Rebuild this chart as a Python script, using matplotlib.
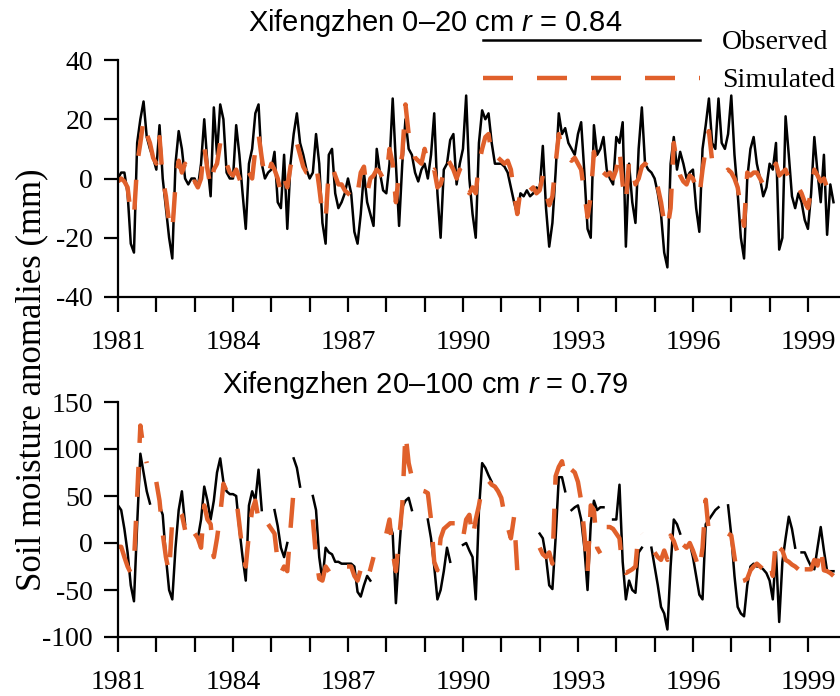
import numpy as np
import matplotlib
matplotlib.use("Agg")
import matplotlib.pyplot as plt

plt.rcParams['font.family'] = ['Liberation Serif', 'DejaVu Serif']
plt.rcParams['mathtext.fontset'] = 'custom'
plt.rcParams['mathtext.it'] = 'Liberation Sans:italic'
plt.rcParams['mathtext.rm'] = 'Liberation Sans'
plt.rcParams['axes.unicode_minus'] = False

# monthly anomalies (mm), Jan 1981 .. Sep 1999, nan = no data
nan = np.nan

obs_top = [
    0, 2, 2, -5, -22, -25, 12, 20, 26, 14, 10, 7,            # 1981
    3, 18, 0, -10, -20, -27, 5, 16, 10, 0, -2, 0,            # 1982
    0, -3, 5, 20, 5, -6, 24, 8, 25, 20, 2, 0,                # 1983
    0, 18, 8, -5, -17, 5, 10, 22, 25, 5, 0, 2,               # 1984
    3, 9, -8, -10, 8, -17, 5, 15, 22, 12, 8, 3,              # 1985
    0, 2, 15, 5, -15, -22, 8, 10, -5, -10, -8, -5,           # 1986
    0, -5, -18, -22, -12, 2, -8, -12, -16, 10, 2, -4,        # 1987
    -5, 5, 27, 5, -16, 5, 20, 10, 8, 2, -1, 3,               # 1988
    5, 0, 8, 22, -5, -20, 3, 5, 13, 15, -2, 5,               # 1989
    10, 28, 0, -12, -20, 12, 23, 20, 22, 12, 5, 5,           # 1990
    5, 4, 2, -3, -8, -12, -5, -6, -4, -6, -5, -3,            # 1991
    -4, 11, -10, -23, -15, 2, 22, 15, 17, 12, 10, 8,         # 1992
    15, 19, 2, -17, -20, 18, 8, 10, 14, 3, 0, -2,            # 1993
    14, 12, 19, -23, 5, -8, -15, 10, 24, 5, 3, 2,            # 1994
    0, -5, -12, -25, -30, 5, 14, 3, 9, 5, 0, 2,              # 1995
    3, -10, -18, 10, 18, 27, 12, 10, 27, 12, 10, 15,         # 1996
    28, 8, -5, -20, -27, 0, 10, 14, 5, 0, -6, -3,            # 1997
    5, 3, 12, -24, -20, 21, 8, -6, -10, -5, -8, -14,         # 1998
    -17, -5, 14, 2, -8, 8, -19, -2, -8,                      # 1999
]

sim_top = [
    -1, 0, -1, -3, -12, -13, 5, 12, 20, 15, 12, 7,
    5, 14, 0, -6, -15, -18, -2, 6, 2, 5, 0, -2,
    -1, -3, 0, 11, 3, -3, 3, 5, 12, 7, 5, 2,
    1, 3, 0, -3, -1, 2, 0, 10, 15, 7, 0, 1,
    5, 3, 0, -5, 0, -3, 4, 9, 12, 8, 4, 2,
    2, 3, 5, -3, -12, -14, 3, 4, 1, -2, -2, -4,
    -5, -6, -8, -5, 2, 4, -5, 0, 1, 3, 2, 0,
    0, 10, 5, -8, 2, 8, 25, 15, 12, 7, 6, 5,
    10, 5, 2, 3, -3, -2, 2, 7, 5, 3, 0, 3,
    1, 0, -5, -3, -5, 5, 10, 14, 15, 8, 6, 7,
    6, 5, 6, 3, -5, -12, -4, -4, -2, -4, -3, -5,
    -4, 1, -5, -9, -6, 5, 15, 10, 8, 7, 6, 7,
    5, 3, -5, -13, -6, 9, 2, 3, 2, 1, 2, 0,
    3, 10, -2, -8, 6, 3, -2, 0, 4, 5, 4, 2,
    0, -3, -8, -15, -17, -10, 12, 5, 1, -1, -2, 1,
    0, -3, -6, 3, 10, 16, 6, 5, 4, 4, 2, 3,
    2, 0, -3, -10, -16, 2, 1, 2, 2, 0, -2, -1,
    2, 3, 5, 1, 2, 3, 0, -2, -4, -3, -5, -8,
    -10, -4, 3, 1, -1, 0, -3, -2, 1,
]

obs_bot = [
    40, 35, 15, -10, -45, -62, 20, 95, 75, 55, 42, nan,
    nan, 40, 30, -15, -50, -60, -5, 35, 55, 20, nan, nan,
    nan, 5, 25, 60, 45, 25, 45, 75, 90, 65, 55, 52,
    52, 50, 15, -15, -40, 40, 55, 45, 78, 35, nan, nan,
    nan, 35, 18, -5, -15, 0, nan, 90, 80, 60, nan, nan,
    nan, 50, 35, -15, -40, -5, -10, -12, -20, -20, -22, -22,
    -22, -22, -25, -52, -57, -45, -35, -40, nan, nan, nan, nan,
    nan, 20, 10, -64, -10, 38, 45, 48, 35, nan, nan, nan,
    nan, 25, 5, -25, -60, -50, -30, -5, -20, nan, nan, nan,
    -2, 0, -8, -15, -60, 35, 85, 80, 72, 65, nan, nan,
    nan, nan, nan, nan, nan, nan, nan, nan, nan, nan, nan, nan,
    10, 5, -15, -45, -49, 5, 70, 70, 55, nan, 35, 38,
    40, 25, -5, -50, 20, 45, 35, 38, 38, nan, nan, 25,
    25, 62, -20, -60, -40, -50, -53, -10, -5, nan, nan, -5,
    -25, -45, -68, -75, -92, -25, 25, 20, 10, nan, nan, 0,
    -15, -35, -55, -60, 20, 25, 30, 35, 38, nan, nan, 40,
    8, -35, -68, -75, -78, -45, -25, -22, -25, -25, -28, -32,
    -40, -60, -10, -84, -20, 5, 28, 15, -5, nan, -10, -10,
    -18, -25, -28, -5, 17, -8, -30, -30, -30,
]

sim_bot = [
    -4, -4, -15, -25, -32, -20, 50, 125, 100, 85, nan, nan,
    65, 45, 10, -15, -32, 25, 30, 35, 30, 14, nan, nan,
    10, 5, -5, 40, 25, 20, -15, 5, 30, 63, 55, 52,
    50, 48, 20, -10, -25, 10, 35, 45, 25, 35, nan, 20,
    15, 10, -20, -32, -25, -30, 15, 57, 45, nan, nan, nan,
    nan, 25, -15, -38, -40, -25, -30, -35, -32, -28, -25, -25,
    -25, -25, -35, -40, -28, -35, -40, -28, -15, nan, nan, nan,
    10, 25, -10, -30, 5, 40, 117, 85, 70, 60, 56, 56,
    55, 53, 25, -20, -29, 5, 15, 18, 21, 21, 21, 20,
    5, 25, 30, 5, 25, 40, 60, 67, 66, 62, 60, 55,
    48, 30, 17, 5, 28, -29, -31, -28, nan, nan, nan, nan,
    -5, -12, -15, -10, -22, 71, 81, 87, 70, nan, 78, 75,
    65, 45, 10, -32, 40, 35, -5, -11, nan, 17, 17, 15,
    10, 5, -29, -32, -30, -28, -25, 14, 10, nan, nan, nan,
    -10, -15, -18, -8, -18, 8, 2, -8, nan, -2, -5, 0,
    -8, -18, -30, -5, 46, 10, 12, 14, 17, 17, nan, 10,
    8, -15, -38, -41, -40, -38, -29, -25, -22, -25, -28, -25,
    -18, -35, 5, -5, -8, -18, -20, -23, -25, -28, nan, -28,
    -28, -28, -18, -24, -3, -29, -30, -32, -35,
]

titles = ["Xifengzhen 0\u201320 cm $r$ = 0.84", "Xifengzhen 20\u2013100 cm $r$ = 0.79"]
year_ticks = list(range(1981, 2000))
year_labels = [str(y) if (y - 1981) % 3 == 0 else "" for y in year_ticks]
top_yticks = [-40, -20, 0, 20, 40]
bot_yticks = [-100, -50, 0, 50, 100, 150]

t = 1981 + np.arange(len(obs_top)) / 12.0

W, H = 840, 696
fig = plt.figure(figsize=(W / 100, H / 100), dpi=100)

x0 = 118 / W
xw = 1 - x0
ax1 = fig.add_axes([x0, 1 - 297 / H, xw, (297 - 60) / H])
ax2 = fig.add_axes([x0, 1 - 637 / H, xw, (637 - 402) / H])

orange = '#e0602b'
for ax, obs, sim, yt in [(ax1, obs_top, sim_top, top_yticks), (ax2, obs_bot, sim_bot, bot_yticks)]:
    ax.plot(t, obs, color='black', lw=1.8, label='Observed')
    ax.plot(t, sim, color=orange, lw=3.2, dashes=(6.75, 5.4), label='Simulated')
    ax.set_xlim(1981, 1981 + (W - 118) / 38.33)
    ax.set_ylim(yt[0], yt[-1])
    ax.set_yticks(yt)
    ax.set_xticks(year_ticks)
    ax.set_xticklabels(year_labels)
    for s in ['top', 'right']:
        ax.spines[s].set_visible(False)
    for s in ['left', 'bottom']:
        ax.spines[s].set_linewidth(1.6)
    ax.tick_params(axis='x', direction='out', length=11, width=1.6, pad=13, labelsize=20)
    ax.tick_params(axis='y', direction='out', length=10, width=1.6, pad=8, labelsize=20)

fig.text(435 / W, 1 - 31 / H, titles[0], family='Liberation Sans', fontsize=21,
         ha='center', va='baseline')
fig.text(425 / W, 1 - 393 / H, titles[1], family='Liberation Sans', fontsize=21,
         ha='center', va='baseline')
fig.text(32 / W, 1 - 380 / H, "Soil moisture anomalies (mm)", fontsize=25,
         rotation=90, ha='center', va='center')

fig.legend(*ax1.get_legend_handles_labels(), loc='upper left',
           bbox_to_anchor=(483 / W, 1 - 30 / H), frameon=False, fontsize=20,
           handlelength=7.8, handletextpad=0.8, labelspacing=0.45,
           borderpad=0, borderaxespad=0)

fig.savefig("out.png", dpi=100)
